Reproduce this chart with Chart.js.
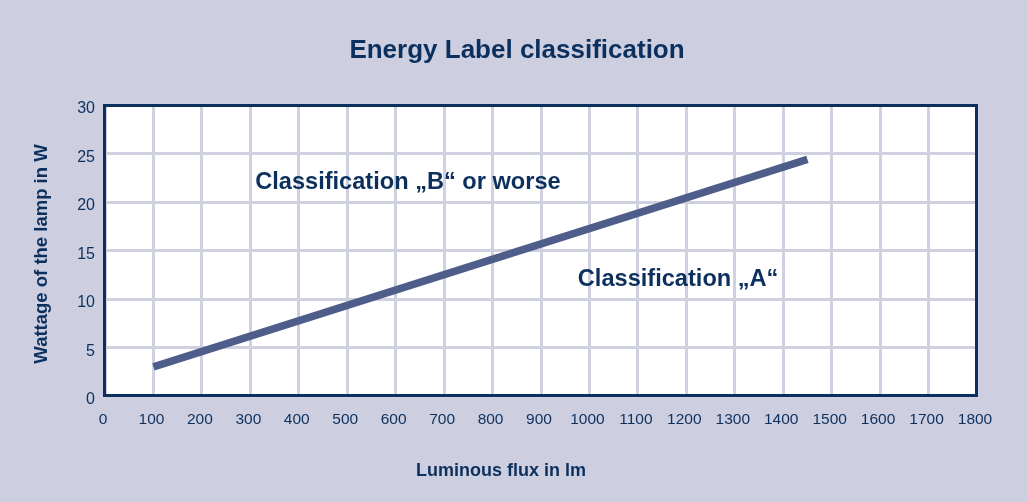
<!DOCTYPE html>
<html>
<head>
<meta charset="utf-8">
<script src="https://cdn.jsdelivr.net/npm/chart.js@4/dist/chart.umd.min.js"></script>
<style>
  html, body { margin: 0; padding: 0; background: #cdcedf; }
  #wrap { width: 1027px; height: 502px; }
</style>
</head>
<body>
<div id="wrap"><canvas id="c" width="1027" height="502"></canvas></div>
<script>
// Class A / class B boundary: lamp wattage against luminous flux
const fluxLm = [100, 1450];
const wattageW = [3.0, 24.4];

const xTicks = [0, 100, 200, 300, 400, 500, 600, 700, 800, 900, 1000, 1100, 1200, 1300, 1400, 1500, 1600, 1700, 1800];
const yTicks = [0, 5, 10, 15, 20, 25, 30];

const titleText = 'Energy Label classification';
const xTitle = 'Luminous flux in lm';
const yTitle = 'Wattage of the lamp in W';
const regionLabels = ['Classification \u201EB\u201C or worse', 'Classification \u201EA\u201C'];
const regionAnchors = [[310, 22.0], [976, 12.0]];

const NAVY = '#0c305e';
const FONT = '"Liberation Sans", Arial, Helvetica, sans-serif';

const points = fluxLm.map((x, i) => ({ x: x, y: wattageW[i] }));

// white plotting area behind the grid
const plotBg = {
  id: 'plotBg',
  beforeDraw(chart) {
    const a = chart.chartArea;
    const ctx = chart.ctx;
    ctx.save();
    ctx.fillStyle = '#ffffff';
    ctx.fillRect(a.left, a.top, a.right - a.left, a.bottom - a.top);
    ctx.restore();
  }
};

const decor = {
  id: 'decor',
  afterDraw(chart) {
    const ctx = chart.ctx;
    const a = chart.chartArea;
    const xs = chart.scales.x, ys = chart.scales.y;
    ctx.save();
    // plot frame
    ctx.strokeStyle = NAVY;
    ctx.lineWidth = 3;
    ctx.strokeRect(a.left - 0.5, a.top + 0.5, a.right - a.left, a.bottom - a.top - 1);

    ctx.fillStyle = NAVY;
    ctx.textBaseline = 'middle';
    // chart title
    ctx.font = 'bold 26px ' + FONT;
    ctx.textAlign = 'center';
    ctx.fillText(titleText, 517, 51);
    // axis titles
    ctx.font = 'bold 18px ' + FONT;
    ctx.fillText(xTitle, 501, 471);
    ctx.font = 'bold 18.5px ' + FONT;
    ctx.save();
    ctx.translate(42, 254);
    ctx.rotate(-Math.PI / 2);
    ctx.fillText(yTitle, 0, 0);
    ctx.restore();
    // region labels
    ctx.font = 'bold 23.6px ' + FONT;
    ctx.textAlign = 'left';
    regionLabels.forEach((t, i) => {
      ctx.fillText(t, xs.getPixelForValue(regionAnchors[i][0]), ys.getPixelForValue(regionAnchors[i][1]));
    });
    ctx.restore();
  }
};

new Chart(document.getElementById('c'), {
  type: 'scatter',
  data: {
    datasets: [{
      data: points,
      showLine: true,
      borderColor: '#4f5d8a',
      borderWidth: 7.5,
      borderCapStyle: 'butt',
      pointRadius: 0,
      pointHoverRadius: 0,
      tension: 0
    }]
  },
  options: {
    responsive: false,
    animation: false,
    events: [],
    layout: { padding: { left: 20, right: 50, top: 105, bottom: 40 } },
    plugins: { legend: { display: false }, tooltip: { enabled: false }, title: { display: false } },
    scales: {
      x: {
        type: 'linear',
        min: 0, max: 1800,
        afterBuildTicks(s) { s.ticks = xTicks.map(v => ({ value: v })); },
        afterFit(s) { s.height = 66; },
        grid: { color: '#cfd0e0', lineWidth: 3, drawTicks: false },
        border: { display: false },
        ticks: {
          color: NAVY,
          font: { family: FONT, size: 15.5 },
          padding: 14,
          labelOffset: -2,
          maxRotation: 0,
          autoSkip: false,
          callback: v => String(v)
        }
      },
      y: {
        type: 'linear',
        min: 0, max: 30,
        afterBuildTicks(s) { s.ticks = yTicks.map(v => ({ value: v })); },
        afterFit(s) { s.width = 85; },
        grid: { color: '#cfd0e0', lineWidth: 3, drawTicks: false },
        border: { display: false },
        ticks: {
          color: NAVY,
          font: { family: FONT, size: 16 },
          padding: 10,
          labelOffset: 4,
          autoSkip: false,
          callback: v => String(v)
        }
      }
    }
  },
  plugins: [plotBg, decor]
});
</script>
</body>
</html>
